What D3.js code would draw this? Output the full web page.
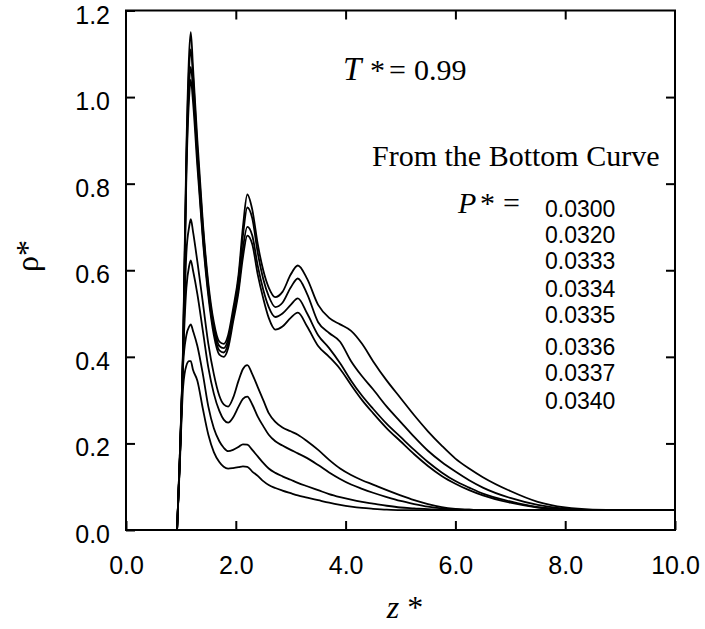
<!DOCTYPE html>
<html lang="en">
<head>
  <meta charset="UTF-8">
  <script src="https://d3js.org/d3.v7.min.js"></script>
  <title>rho* profiles, T* = 0.99</title>
  <style>
    body { margin: 0; background: #fff; }
    svg { display: block; }
  </style>
</head>
<body>
  <svg width="705" height="629"></svg>
  <script>
    // z* grid shared by all curves
    const zGrid = [0.93, 0.98, 1.04, 1.10, 1.15, 1.18, 1.22, 1.30, 1.40, 1.50, 1.60, 1.70, 1.78, 1.86, 1.95, 2.05,
      2.13, 2.21, 2.30, 2.40, 2.50, 2.60, 2.72, 2.85, 3.00, 3.13, 3.30, 3.50, 3.70, 3.90, 4.10, 4.30,
      4.50, 4.75, 5.00, 5.25, 5.50, 5.75, 6.00, 6.25, 6.50, 7.00, 7.50, 8.00, 8.50, 9.00, 9.50, 10.00];

    // rho* for each P* (from the bottom curve)
    const rho0300 = [0, 0.15, 0.33, 0.38, 0.39, 0.39, 0.37, 0.345, 0.28, 0.22, 0.18, 0.157, 0.146, 0.142, 0.143, 0.145,
      0.147, 0.146, 0.135, 0.125, 0.113, 0.104, 0.097, 0.091, 0.085, 0.080, 0.075, 0.069, 0.063, 0.058, 0.054, 0.051,
      0.049, 0.047, 0.046, 0.046, 0.046, 0.046, 0.046, 0.046, 0.046, 0.046, 0.046, 0.046, 0.046, 0.046, 0.046, 0.046];
    const rho0320 = [0, 0.16, 0.38, 0.45, 0.47, 0.475, 0.46, 0.425, 0.36, 0.285, 0.235, 0.205, 0.19, 0.182, 0.185, 0.192,
      0.198, 0.197, 0.185, 0.17, 0.155, 0.142, 0.132, 0.124, 0.116, 0.109, 0.101, 0.092, 0.083, 0.076, 0.070, 0.065,
      0.061, 0.056, 0.052, 0.050, 0.048, 0.047, 0.046, 0.046, 0.046, 0.046, 0.046, 0.046, 0.046, 0.046, 0.046, 0.046];
    const rho0333 = [0, 0.16, 0.40, 0.56, 0.61, 0.623, 0.60, 0.545, 0.46, 0.375, 0.315, 0.275, 0.255, 0.248, 0.26, 0.285,
      0.303, 0.308, 0.29, 0.262, 0.24, 0.22, 0.205, 0.195, 0.185, 0.177, 0.166, 0.15, 0.133, 0.118, 0.105, 0.095,
      0.086, 0.076, 0.067, 0.060, 0.054, 0.050, 0.048, 0.047, 0.046, 0.046, 0.046, 0.046, 0.046, 0.046, 0.046, 0.046];
    const rho0334 = [0, 0.17, 0.41, 0.64, 0.70, 0.718, 0.69, 0.62, 0.525, 0.43, 0.36, 0.31, 0.29, 0.285, 0.305, 0.345,
      0.372, 0.381, 0.36, 0.33, 0.30, 0.27, 0.25, 0.237, 0.228, 0.22, 0.205, 0.185, 0.162, 0.142, 0.127, 0.115,
      0.105, 0.092, 0.080, 0.069, 0.060, 0.053, 0.049, 0.047, 0.046, 0.046, 0.046, 0.046, 0.046, 0.046, 0.046, 0.046];
    const rho0335 = [0, 0.16, 0.40, 0.82, 1.00, 1.04, 0.99, 0.84, 0.67, 0.54, 0.45, 0.405, 0.40, 0.42, 0.48, 0.55,
      0.63, 0.68, 0.66, 0.59, 0.535, 0.49, 0.463, 0.47, 0.49, 0.502, 0.47, 0.425, 0.40, 0.372, 0.335, 0.30,
      0.27, 0.235, 0.205, 0.175, 0.148, 0.125, 0.107, 0.092, 0.080, 0.063, 0.052, 0.047, 0.046, 0.046, 0.046, 0.046];
    const rho0336 = [0, 0.16, 0.41, 0.84, 1.03, 1.07, 1.02, 0.86, 0.68, 0.55, 0.46, 0.415, 0.41, 0.43, 0.49, 0.56,
      0.65, 0.70, 0.68, 0.61, 0.555, 0.515, 0.492, 0.50, 0.52, 0.535, 0.50, 0.45, 0.42, 0.385, 0.345, 0.31,
      0.28, 0.245, 0.215, 0.185, 0.157, 0.133, 0.113, 0.098, 0.084, 0.066, 0.053, 0.048, 0.046, 0.046, 0.046, 0.046];
    const rho0337 = [0, 0.17, 0.42, 0.86, 1.07, 1.11, 1.05, 0.88, 0.70, 0.56, 0.47, 0.425, 0.42, 0.44, 0.50, 0.58,
      0.68, 0.745, 0.72, 0.64, 0.58, 0.54, 0.515, 0.525, 0.56, 0.581, 0.545, 0.48, 0.455, 0.435, 0.39, 0.355,
      0.325, 0.285, 0.25, 0.215, 0.183, 0.157, 0.135, 0.115, 0.098, 0.074, 0.058, 0.049, 0.046, 0.046, 0.046, 0.046];
    const rho0340 = [0, 0.17, 0.43, 0.88, 1.10, 1.15, 1.07, 0.90, 0.71, 0.57, 0.48, 0.435, 0.43, 0.45, 0.51, 0.59,
      0.70, 0.775, 0.74, 0.66, 0.60, 0.56, 0.538, 0.55, 0.59, 0.611, 0.58, 0.52, 0.49, 0.475, 0.46, 0.43,
      0.39, 0.345, 0.305, 0.265, 0.228, 0.195, 0.165, 0.142, 0.122, 0.09, 0.065, 0.052, 0.047, 0.046, 0.046, 0.046];

    const pressures = ["0.0300", "0.0320", "0.0333", "0.0334", "0.0335", "0.0336", "0.0337", "0.0340"];
    const series = [rho0300, rho0320, rho0333, rho0334, rho0335, rho0336, rho0337, rho0340];

    const xTicks = [0, 2, 4, 6, 8, 10];
    const yTicks = [0, 0.2, 0.4, 0.6, 0.8, 1.0, 1.2];

    const svg = d3.select("svg");
    const plotL = 126, plotR = 675, plotT = 10.5, plotB = 530;

    const x = d3.scaleLinear().domain([0, 10]).range([plotL, plotR]);
    const y = d3.scaleLinear().domain([0, 1.2]).range([plotB, plotT]);

    const sans = "'Liberation Sans', Arial, Helvetica, sans-serif";
    const serif = "'Liberation Serif', 'Times New Roman', serif";

    // axes: ticks point inward, the frame is drawn separately
    function styleAxis(g) {
      g.select(".domain").remove();
      g.selectAll(".tick line").attr("stroke", "#000").attr("stroke-width", 2);
      g.selectAll(".tick text").attr("fill", "#000");
      g.attr("font-family", sans).attr("font-size", 25);
    }

    svg.append("g")
      .attr("transform", `translate(0,${plotB})`)
      .call(d3.axisBottom(x).tickValues(xTicks).tickSize(-9).tickPadding(26).tickFormat(d3.format(".1f")))
      .call(styleAxis);

    svg.append("g")
      .attr("transform", `translate(0,${plotT})`)
      .call(d3.axisTop(x).tickValues([2, 4, 6, 8]).tickSize(-9).tickFormat(""))
      .call(styleAxis);

    svg.append("g")
      .attr("transform", `translate(${plotL},0)`)
      .call(d3.axisLeft(y).tickValues(yTicks).tickSize(-9).tickPadding(16).tickFormat(d3.format(".1f")))
      .call(styleAxis)
      .selectAll(".tick text").attr("dy", "0.5em");

    svg.append("g")
      .attr("transform", `translate(${plotR},0)`)
      .call(d3.axisRight(y).tickValues([0.2, 0.4, 0.6, 0.8, 1.0]).tickSize(-9).tickFormat(""))
      .call(styleAxis);

    // frame
    svg.append("rect")
      .attr("x", plotL).attr("y", plotT)
      .attr("width", plotR - plotL).attr("height", plotB - plotT)
      .attr("fill", "none").attr("stroke", "#000").attr("stroke-width", 2);

    // curves
    const line = d3.line()
      .x((d, i) => x(zGrid[i]))
      .y(d => y(d))
      .curve(d3.curveMonotoneX);

    svg.append("g")
      .selectAll("path")
      .data(series)
      .join("path")
      .attr("d", line)
      .attr("fill", "none")
      .attr("stroke", "#000")
      .attr("stroke-width", 1.8)
      .attr("stroke-linejoin", "round");

    // annotations
    const ann = svg.append("g").attr("font-family", serif).attr("font-size", 30).attr("fill", "#000");
    ann.append("text").attr("x", 343).attr("y", 80).attr("font-style", "italic").attr("font-size", 33).text("T");
    ann.append("text").attr("x", 370).attr("y", 80).text("*");
    ann.append("text").attr("x", 389).attr("y", 80).text("=");
    ann.append("text").attr("x", 414).attr("y", 80).text("0.99");

    ann.append("text").attr("x", 372).attr("y", 166).text("From the Bottom Curve");

    ann.append("text").attr("x", 458).attr("y", 213).attr("font-style", "italic").text("P");
    ann.append("text").attr("x", 480).attr("y", 213).text("*");
    ann.append("text").attr("x", 503).attr("y", 213).text("=");

    const valueBaselines = [217, 243, 269, 297, 323, 355, 381, 409];
    svg.append("g")
      .attr("font-family", sans).attr("font-size", 23)
      .selectAll("text")
      .data(pressures)
      .join("text")
      .attr("x", 545)
      .attr("y", (d, i) => valueBaselines[i])
      .text(d => d);

    // axis titles
    const zLab = svg.append("text").attr("font-family", serif).attr("font-size", 32)
      .attr("x", 405).attr("y", 618).attr("text-anchor", "middle");
    zLab.append("tspan").attr("font-style", "italic").text("z");
    zLab.append("tspan").text(" *");

    svg.append("text")
      .attr("font-family", serif).attr("font-size", 32)
      .attr("text-anchor", "middle")
      .attr("transform", "translate(38,256) rotate(-90)")
      .text("ρ*");
  </script>
</body>
</html>
